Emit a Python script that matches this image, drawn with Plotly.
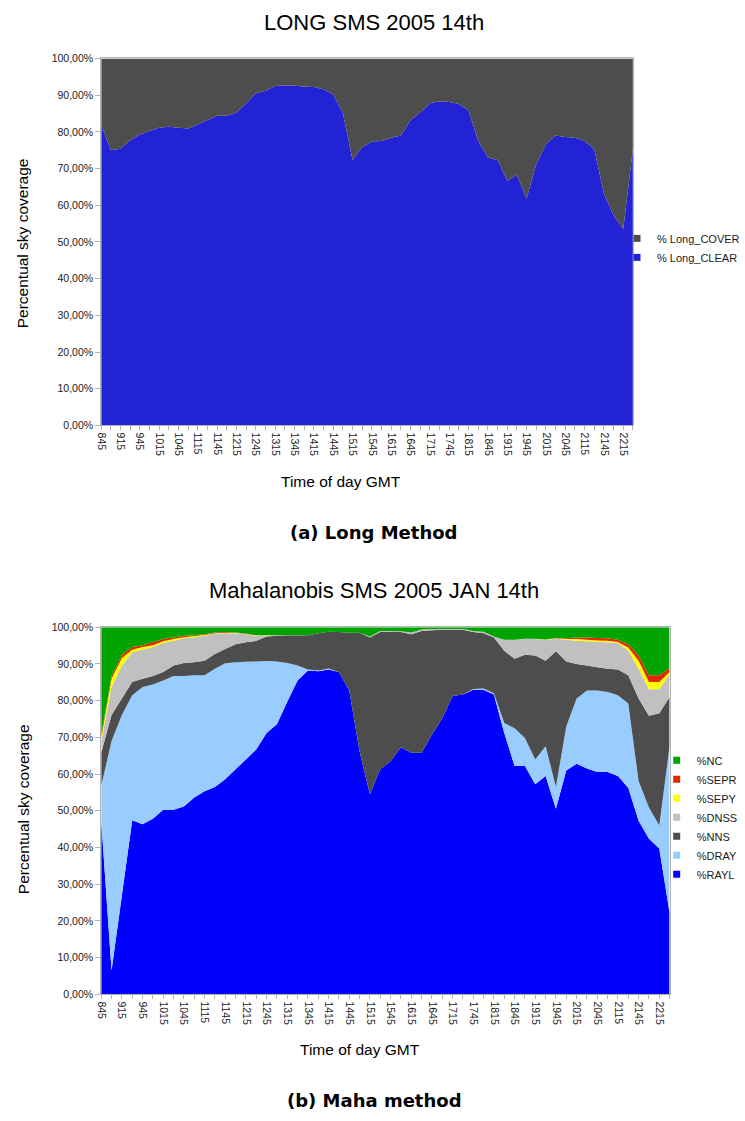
import plotly.graph_objects as go

# ---------------- data ----------------
times = ["845", "900", "915", "930", "945", "1000", "1015", "1030", "1045", "1100",
         "1115", "1130", "1145", "1200", "1215", "1230", "1245", "1300", "1315", "1330",
         "1345", "1400", "1415", "1430", "1445", "1500", "1515", "1530", "1545", "1600",
         "1615", "1630", "1645", "1700", "1715", "1730", "1745", "1800", "1815", "1830",
         "1845", "1900", "1915", "1930", "1945", "2000", "2015", "2030", "2045", "2100",
         "2115", "2130", "2145", "2200", "2215", "2230"]

y_tick_vals = [0, 10, 20, 30, 40, 50, 60, 70, 80, 90, 100]
y_tick_text = ["0,00%", "10,00%", "20,00%", "30,00%", "40,00%", "50,00%",
               "60,00%", "70,00%", "80,00%", "90,00%", "100,00%"]

# Long method (percent)
long_clear = [82.0, 75.0, 75.4, 77.7, 79.3, 80.2, 81.1, 81.4, 81.1, 80.9,
              82.0, 83.2, 84.4, 84.4, 85.3, 87.8, 90.5, 91.2, 92.5, 92.6,
              92.6, 92.3, 92.2, 91.6, 90.2, 85.1, 72.3, 75.9, 77.4, 77.5,
              78.4, 79.0, 83.2, 85.3, 87.8, 88.3, 88.1, 87.6, 85.8, 77.5,
              73.0, 72.3, 66.7, 68.3, 61.8, 71.2, 76.6, 79.0, 78.6, 78.4,
              77.5, 75.3, 63.2, 57.3, 53.5, 75.3]
long_cover = [18.0, 25.0, 24.6, 22.3, 20.7, 19.8, 18.9, 18.6, 18.9, 19.1,
              18.0, 16.8, 15.6, 15.6, 14.7, 12.2, 9.5, 8.8, 7.5, 7.4,
              7.4, 7.7, 7.8, 8.4, 9.8, 14.9, 27.7, 24.1, 22.6, 22.5,
              21.6, 21.0, 16.8, 14.7, 12.2, 11.7, 11.9, 12.4, 14.2, 22.5,
              27.0, 27.7, 33.3, 31.7, 38.2, 28.8, 23.4, 21.0, 21.4, 21.6,
              22.5, 24.7, 36.8, 42.7, 46.5, 24.7]

# Mahalanobis method (percent)
rayl = [47.3, 6.5, 27.0, 47.4, 46.3, 47.8, 50.3, 50.3, 51.2, 53.6,
        55.3, 56.5, 58.6, 61.3, 64.0, 66.7, 71.2, 73.6, 79.7, 85.5,
        88.2, 88.0, 88.5, 87.8, 82.8, 66.2, 54.5, 61.3, 63.5, 67.3,
        65.8, 65.8, 70.7, 75.2, 81.3, 81.7, 83.0, 83.0, 81.7, 71.2,
        62.2, 62.2, 57.2, 59.5, 50.5, 61.0, 62.8, 61.5, 60.6, 60.6,
        59.5, 56.3, 47.3, 42.4, 39.7, 22.2]
dray = [9.5, 62.5, 49.1, 34.1, 37.4, 36.6, 35.2, 36.4, 35.5, 33.3,
        31.6, 32.2, 31.6, 29.2, 26.6, 24.0, 19.6, 17.1, 10.6, 4.1,
        0.3, 0.2, 0.3, 0.0, 0.0, 0.0, 0.0, 0.0, 0.0, 0.0,
        0.0, 0.0, 0.0, 0.0, 0.0, 0.0, 0.2, 0.3, 0.3, 2.7,
        10.3, 7.6, 6.8, 8.1, 5.9, 12.0, 17.8, 21.3, 22.2, 21.8,
        22.0, 22.9, 10.8, 8.5, 6.3, 45.4]
nns = [9.0, 7.1, 4.5, 3.6, 2.3, 2.3, 2.3, 2.9, 3.6, 3.6,
       4.0, 4.0, 3.9, 4.9, 5.3, 5.6, 6.7, 7.0, 7.5, 8.2,
       9.3, 10.2, 10.0, 10.9, 15.7, 32.3, 42.7, 37.4, 35.2, 31.4,
       32.3, 33.2, 28.5, 24.1, 18.0, 17.6, 15.5, 15.1, 15.2, 19.7,
       18.9, 22.7, 28.3, 23.3, 37.0, 17.7, 9.4, 6.8, 6.3, 6.3,
       7.0, 7.7, 22.5, 25.0, 30.6, 13.4]
dnss = [3.1, 7.6, 9.0, 8.1, 7.9, 7.9, 7.9, 6.7, 6.7, 6.7,
        6.8, 5.6, 4.3, 3.0, 2.2, 1.4, 0.2, 0.1, 0.1, 0.1,
        0.0, 0.0, 0.0, 0.0, 0.0, 0.0, 0.3, 0.3, 0.3, 0.2,
        0.5, 0.4, 0.3, 0.2, 0.2, 0.2, 0.3, 0.4, 0.3, 3.0,
        5.2, 4.3, 4.5, 5.7, 3.4, 5.9, 6.3, 6.6, 6.9, 7.2,
        7.2, 6.7, 8.1, 7.2, 6.5, 6.3]
sepy = [0.9, 2.3, 2.0, 0.7, 0.7, 0.5, 0.5, 0.5, 0.3, 0.4,
        0.2, 0.1, 0.1, 0.1, 0.1, 0.1, 0.1, 0.0, 0.0, 0.0,
        0.0, 0.0, 0.0, 0.0, 0.0, 0.0, 0.0, 0.0, 0.0, 0.0,
        0.0, 0.0, 0.0, 0.0, 0.0, 0.0, 0.0, 0.0, 0.0, 0.0,
        0.0, 0.1, 0.1, 0.1, 0.1, 0.2, 0.5, 0.4, 0.4, 0.4,
        0.3, 0.9, 2.2, 2.0, 2.0, 0.5]
sepr = [0.7, 0.7, 0.9, 0.7, 0.5, 0.8, 0.6, 0.4, 0.4, 0.2,
        0.2, 0.2, 0.2, 0.1, 0.1, 0.0, 0.0, 0.0, 0.0, 0.0,
        0.0, 0.0, 0.0, 0.0, 0.0, 0.0, 0.0, 0.0, 0.0, 0.0,
        0.0, 0.0, 0.0, 0.0, 0.0, 0.0, 0.0, 0.0, 0.0, 0.0,
        0.0, 0.0, 0.0, 0.0, 0.1, 0.2, 0.4, 0.6, 0.7, 0.7,
        0.6, 0.9, 1.4, 1.8, 1.8, 1.1]
nc = [29.5, 13.3, 7.5, 5.4, 4.9, 4.1, 3.2, 2.8, 2.3, 2.2,
      1.9, 1.4, 1.3, 1.4, 1.7, 2.2, 2.2, 2.2, 2.1, 2.1,
      2.2, 1.6, 1.2, 1.3, 1.5, 1.5, 2.5, 1.0, 1.0, 1.1,
      1.4, 0.6, 0.5, 0.5, 0.5, 0.5, 1.0, 1.2, 2.5, 3.4,
      3.4, 3.1, 3.1, 3.3, 2.9, 3.0, 2.8, 2.8, 2.9, 3.0,
      3.4, 4.6, 7.7, 13.1, 13.1, 11.1]

# ---------------- styling ----------------
W, H = 745, 1121
FONT = "Liberation Sans"
AX = "#b3b3b3"
TXT = "#1a1a1a"

top_series = [("% Long_CLEAR", long_clear, "#2323d6"),
              ("% Long_COVER", long_cover, "#4d4d4d")]
bot_series = [("%RAYL", rayl, "#0000ff"),
              ("%DRAY", dray, "#99ccff"),
              ("%NNS", nns, "#4d4d4d"),
              ("%DNSS", dnss, "#c0c0c0"),
              ("%SEPY", sepy, "#ffff00"),
              ("%SEPR", sepr, "#e02a00"),
              ("%NC", nc, "#00a400")]

fig = go.Figure()

for name, vals, col in top_series:
    fig.add_trace(go.Scatter(x=times, y=vals, name=name, mode="none",
                             stackgroup="top", groupnorm="percent",
                             fillcolor=col, line=dict(width=0),
                             showlegend=False, xaxis="x", yaxis="y",
                             hoverinfo="skip"))
for name, vals, col in bot_series:
    fig.add_trace(go.Scatter(x=times, y=vals, name=name, mode="none",
                             stackgroup="bot", groupnorm="percent",
                             fillcolor=col, line=dict(width=0),
                             showlegend=False, xaxis="x2", yaxis="y2",
                             hoverinfo="skip"))

# legend entries (top-to-bottom order)
for name, vals, col in reversed(top_series):
    fig.add_trace(go.Scatter(x=[None], y=[None], mode="markers", name=name,
                             marker=dict(symbol="square", size=7, color=col),
                             legend="legend", xaxis="x", yaxis="y"))
for name, vals, col in reversed(bot_series):
    fig.add_trace(go.Scatter(x=[None], y=[None], mode="markers", name=name,
                             marker=dict(symbol="square", size=7, color=col),
                             legend="legend2", xaxis="x2", yaxis="y2"))


def px_x(p):
    return p / W


def px_y(p):
    return 1 - p / H


tick_text_x = [t if i % 2 == 0 else "" for i, t in enumerate(times)]

xcommon = dict(type="category", range=[0, len(times) - 1], tickmode="array",
               tickvals=times, ticktext=tick_text_x, tickangle=90,
               ticks="outside", ticklen=4, tickcolor=AX, showline=True,
               linecolor=AX, mirror=True, showgrid=False, zeroline=False,
               tickfont=dict(family=FONT, size=10.5, color=TXT))
ycommon = dict(range=[0, 100], tickmode="array", tickvals=y_tick_vals,
               ticktext=y_tick_text, ticks="outside", ticklen=5, tickcolor=AX,
               showline=True, linecolor=AX, mirror=True, showgrid=False,
               zeroline=False, tickfont=dict(family=FONT, size=10.5, color=TXT))

fig.update_layout(
    width=W, height=H,
    margin=dict(l=0, r=0, t=0, b=0),
    paper_bgcolor="white", plot_bgcolor="white",
    font=dict(family=FONT, color="#000000"),
    xaxis=dict(domain=[px_x(97), px_x(633)], anchor="y", **xcommon),
    yaxis=dict(domain=[px_y(424), px_y(53)], anchor="x", **ycommon),
    xaxis2=dict(domain=[px_x(97), px_x(670)], anchor="y2", **xcommon),
    yaxis2=dict(domain=[px_y(999), px_y(628)], anchor="x2", **ycommon),
    legend=dict(x=px_x(617), y=px_y(244.5), xanchor="left", yanchor="middle",
                traceorder="normal",
                font=dict(family=FONT, size=11, color=TXT),
                bgcolor="rgba(0,0,0,0)", itemwidth=30),
    legend2=dict(x=px_x(657), y=px_y(820), xanchor="left", yanchor="middle",
                 traceorder="normal",
                 font=dict(family=FONT, size=11, color=TXT),
                 bgcolor="rgba(0,0,0,0)", itemwidth=30),
    showlegend=True,
)

annots = [
    ("LONG SMS 2005 14th", 372, 17, 22, False, 0),
    ("Mahalanobis SMS 2005 JAN 14th", 372, 591, 22, False, 0),
    ("Time of day GMT", 339, 481, 15.5, False, 0),
    ("Time of day GMT", 358, 1055, 15.5, False, 0),
    ("Percentual sky coverage", 18, 240, 15.5, False, -90),
    ("Percentual sky coverage", 18, 812, 15.5, False, -90),
    ("<b>(a) Long Method</b>", 371, 532, 18, True, 0),
    ("<b>(b) Maha method</b>", 372, 1106, 18, True, 0),
]
for text, xx, yy, size, bold, ang in annots:
    fig.add_annotation(text=text, x=px_x(xx), y=px_y(yy), xref="paper", yref="paper",
                       xanchor="center", yanchor="middle", showarrow=False,
                       textangle=ang,
                       font=dict(family="DejaVu Sans" if bold else FONT, size=size,
                                 color="#000000"))

fig.write_html("out.html",
               config={"displayModeBar": False},
               post_script="document.body.style.margin='0';"
                           "document.body.style.padding='0';"
                           "document.documentElement.style.overflow='hidden';")
